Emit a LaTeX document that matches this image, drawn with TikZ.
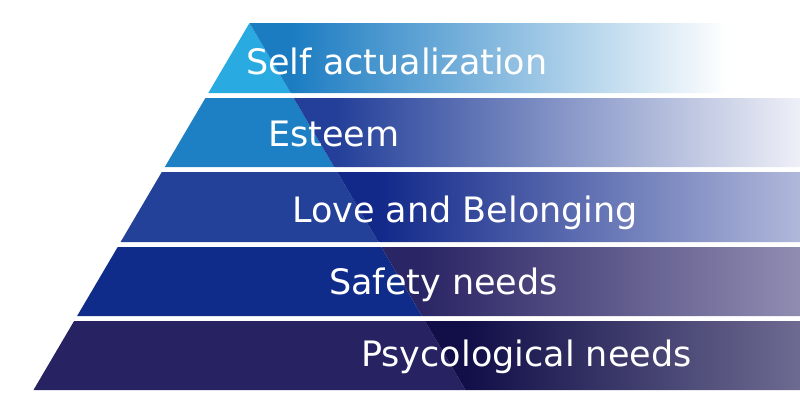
\documentclass[tikz,border=0pt]{standalone}
\usepackage{fontspec}
\setmainfont{DejaVu Sans}
\definecolor{lA}{HTML}{29ABE2}
\definecolor{lB}{HTML}{1E80C4}
\definecolor{lC}{HTML}{24419A}
\definecolor{lD}{HTML}{0F2C8A}
\definecolor{lE}{HTML}{272262}
\definecolor{gA1}{HTML}{1B7CC2}
\definecolor{gA2}{HTML}{FFFFFF}
\definecolor{gB1}{HTML}{233F99}
\definecolor{gB2}{HTML}{EEF0F7}
\definecolor{gC1}{HTML}{12298A}
\definecolor{gC2}{HTML}{B0B8DA}
\definecolor{gD1}{HTML}{2A2564}
\definecolor{gD2}{HTML}{908CB1}
\definecolor{gE1}{HTML}{110E48}
\definecolor{gE2}{HTML}{6D6B91}
\tikzset{
  label text/.style={anchor=base west, inner sep=0pt, text=white, font=\fontsize{35}{40}\selectfont},
}
% #1 t, #2 b, #3 xl_t, #4 xl_b, #5 xd_t, #6 xd_b, #7 left colour
\newcommand{\bandpart}[7]{%
  \fill[#7] (#3,#1) -- (#5,#1) -- (#6,#2) -- (#4,#2) -- cycle;
}
% #1 t, #2 b, #3 xd_t, #4 xd_b, #5 right, #6 x0, #7 c1, #8 c2
\newcommand{\bandgrad}[8]{%
  \begin{scope}
    \clip (#3,#1) -- (#5,#1) -- (#5,#2) -- (#4,#2) -- cycle;
    \fill[#7] (#3,#1) rectangle (#6,#2);
    \shade[left color=#7,right color=#8] (#6,#1) rectangle (#5,#2);
  \end{scope}
}
\begin{document}
\begin{tikzpicture}[x=1pt,y=-1pt]
\useasboundingbox (0,0) rectangle (800,400);
\fill[white] (0,0) rectangle (800,400);
% band 1
\bandpart{23}{93}{249.5}{208.3}{249.5}{290.7}{lA}
\bandgrad{23}{93}{249.5}{290.7}{728}{290}{gA1}{gA2}
% band 2
\bandpart{98}{167}{205.4}{164.8}{293.6}{334.2}{lB}
\bandgrad{98}{167}{293.6}{334.2}{800}{335}{gB1}{gB2}
% band 3
\bandpart{172}{242}{161.8}{120.6}{337.2}{378.4}{lC}
\bandgrad{172}{242}{337.2}{378.4}{800}{380}{gC1}{gC2}
% band 4
\bandpart{247}{316}{117.7}{77.1}{381.3}{421.9}{lD}
\bandgrad{247}{316}{381.3}{421.9}{800}{420}{gD1}{gD2}
% band 5
\bandpart{321}{390}{74.1}{33.5}{424.9}{465.5}{lE}
\bandgrad{321}{390}{424.9}{465.5}{800}{465}{gE1}{gE2}
% labels
\node[label text] (t1) at (246,74) {Self actualization};
\node[label text] (t2) at (268,146) {Esteem};
\node[label text] (t3) at (292,222) {Love and Belonging};
\node[label text] (t4) at (329,294) {Safety needs};
\node[label text] (t5) at (361,366) {Psycological needs};
\end{tikzpicture}
\end{document}
